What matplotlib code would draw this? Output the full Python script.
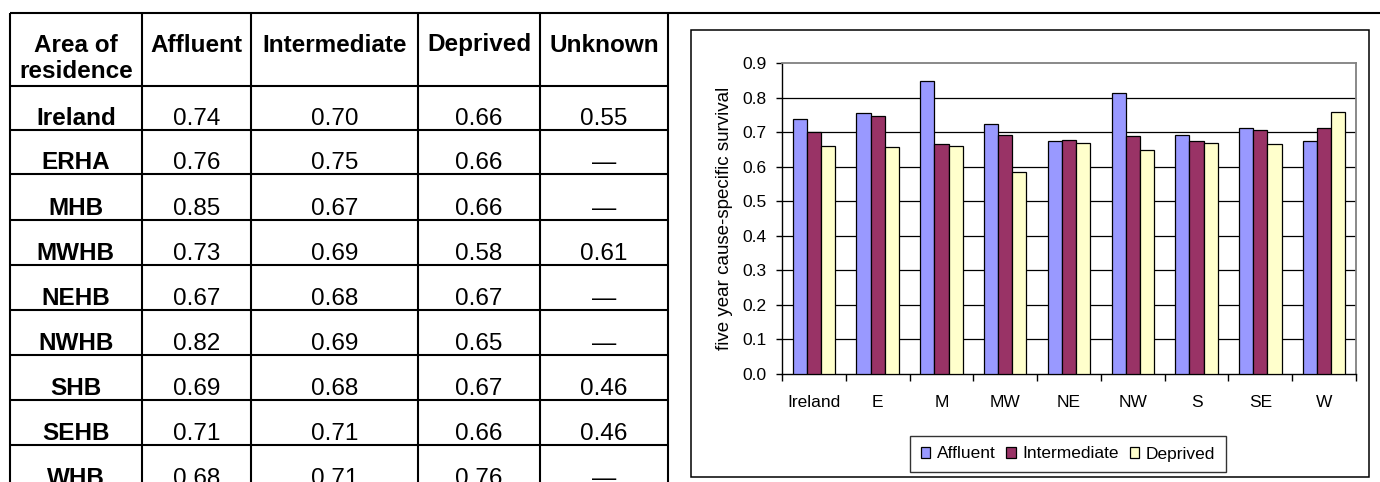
import numpy as np
import matplotlib
matplotlib.use('Agg')
import matplotlib.pyplot as plt
from matplotlib.patches import Rectangle

plt.rcParams['font.family'] = ['Liberation Sans', 'DejaVu Sans']

# Table data
table_header = ['Affluent', 'Intermediate', 'Deprived', 'Unknown']
table_areas = ['Ireland', 'ERHA', 'MHB', 'MWHB', 'NEHB', 'NWHB', 'SHB', 'SEHB', 'WHB']
tbl_affluent = [0.74, 0.76, 0.85, 0.73, 0.67, 0.82, 0.69, 0.71, 0.68]
tbl_intermediate = [0.70, 0.75, 0.67, 0.69, 0.68, 0.69, 0.68, 0.71, 0.71]
tbl_deprived = [0.66, 0.66, 0.66, 0.58, 0.67, 0.65, 0.67, 0.66, 0.76]
tbl_unknown = [0.55, None, None, 0.61, None, None, 0.46, 0.46, None]

# Chart data
regions = ['Ireland', 'E', 'M', 'MW', 'NE', 'NW', 'S', 'SE', 'W']
affluent = [0.739, 0.756, 0.850, 0.724, 0.674, 0.814, 0.693, 0.712, 0.675]
intermediate = [0.702, 0.746, 0.665, 0.693, 0.679, 0.688, 0.675, 0.706, 0.712]
deprived = [0.661, 0.658, 0.661, 0.585, 0.670, 0.648, 0.670, 0.665, 0.760]
series_names = ['Affluent', 'Intermediate', 'Deprived']
series_colors = ['#9999FF', '#993366', '#FFFFCC']

W, H = 1380, 482
fig = plt.figure(figsize=(W / 100, H / 100), dpi=100)

# background axes in pixel coordinates for the table and frames
bg = fig.add_axes([0, 0, 1, 1])
bg.set_xlim(0, W)
bg.set_ylim(H, 0)
bg.axis('off')

col_edges = [9.7, 142, 251, 418, 540, 667.7]
row_edges = [12.7, 86, 130, 174.3, 219.7, 265, 310, 355, 400, 445.3, 490]
lw_tbl = 1.5

# outer top rule
bg.plot([col_edges[0], W], [row_edges[0], row_edges[0]], color='black', lw=lw_tbl, solid_capstyle='butt')
for x in col_edges:
    bg.plot([x, x], [row_edges[0], row_edges[-1]], color='black', lw=lw_tbl, solid_capstyle='butt')
for y in row_edges[1:]:
    bg.plot([col_edges[0], col_edges[-1]], [y, y], color='black', lw=lw_tbl, solid_capstyle='butt')

centers = [(col_edges[i] + col_edges[i + 1]) / 2 for i in range(5)]
fs = 17.5
bg.text(centers[0], 51.5, 'Area of', ha='center', va='baseline', fontsize=fs, fontweight='bold')
bg.text(centers[0], 77.5, 'residence', ha='center', va='baseline', fontsize=fs, fontweight='bold')
for j, h in enumerate(table_header):
    bg.text(centers[j + 1], 51.5, h, ha='center', va='baseline', fontsize=fs, fontweight='bold')

columns = [tbl_affluent, tbl_intermediate, tbl_deprived, tbl_unknown]
for i, area in enumerate(table_areas):
    base = row_edges[i + 2] - 5
    bg.text(centers[0], base, area, ha='center', va='baseline', fontsize=fs, fontweight='bold')
    for j, col in enumerate(columns):
        v = col[i]
        s = '\u2014' if v is None else '%.2f' % v
        bg.text(centers[j + 1], base, s, ha='center', va='baseline', fontsize=fs)

# chart frame
bg.add_patch(Rectangle((691, 30), 1369 - 691, 477 - 30, fill=False, edgecolor='black', lw=1.1))

# chart axes
left, right, top, bottom = 782, 1356, 63.3, 374
ax = fig.add_axes([left / W, 1 - bottom / H, (right - left) / W, (bottom - top) / H])
x = np.arange(len(regions))
w = 1 / 4.5
for k, (vals, name, c) in enumerate(zip([affluent, intermediate, deprived], series_names, series_colors)):
    ax.bar(x + (k - 1) * w, vals, width=w, color=c, edgecolor='black', linewidth=0.9,
           label=name, zorder=3)

ax.set_xlim(-0.5, len(regions) - 0.5)
ax.set_ylim(0, 0.9)
yt = np.round(np.arange(0, 0.91, 0.1), 1)
ax.set_yticks(yt)
ax.set_yticklabels(['%.1f' % v for v in yt])
for v in yt[1:-1]:
    ax.axhline(v, color='black', lw=0.9, zorder=1)

ax.set_xticks(x)
ax.set_xticklabels(regions)
ax.set_xticks(np.arange(-0.5, len(regions), 1), minor=True)
ax.tick_params(axis='x', which='major', length=0, pad=15, labelsize=12.5)
ax.tick_params(axis='x', which='minor', length=5, width=1, direction='out', color='black')
ax.tick_params(axis='y', length=4.3, width=1, direction='out', pad=7, labelsize=12.5)

for s in ['left', 'bottom']:
    ax.spines[s].set_color('black')
    ax.spines[s].set_linewidth(1.0)
for s in ['top', 'right']:
    ax.spines[s].set_color('#808080')
    ax.spines[s].set_linewidth(1.3)

ax.set_ylabel('five year cause-specific survival', fontsize=13.5)
ax.yaxis.set_label_coords(-0.085, 0.5)

leg = fig.legend(loc='center', bbox_to_anchor=(1068 / W, 1 - 454 / H), ncol=3, fontsize=12.5,
                 frameon=True, fancybox=False, shadow=False, handlelength=0.55, handleheight=0.55,
                 handletextpad=0.4, columnspacing=0.6, borderpad=0.6, borderaxespad=0)
leg.get_frame().set_edgecolor('black')
leg.get_frame().set_linewidth(1.0)

fig.savefig('out.png', dpi=100)
